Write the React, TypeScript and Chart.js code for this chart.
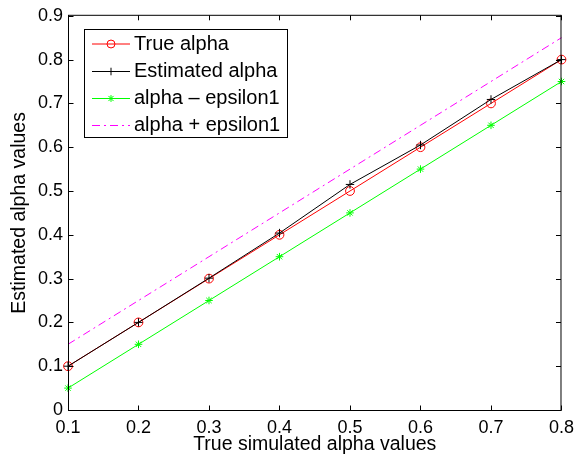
import React, { useEffect, useRef } from 'react';
import { Chart, registerables } from 'chart.js';

Chart.register(...registerables);

const xValues = [0.1, 0.2, 0.3, 0.4, 0.5, 0.6, 0.7, 0.8];
const trueAlpha = [0.1, 0.2, 0.3, 0.4, 0.5, 0.6, 0.7, 0.8];
const estimatedAlpha = [0.1, 0.2, 0.301, 0.404, 0.515, 0.605, 0.709, 0.8];
const alphaMinusEps = [0.05, 0.15, 0.25, 0.35, 0.45, 0.55, 0.65, 0.75];
const alphaPlusEps = [0.15, 0.25, 0.35, 0.45, 0.55, 0.65, 0.75, 0.85];
const seriesLabels = ['True alpha', 'Estimated alpha', 'alpha \u2013 epsilon1', 'alpha + epsilon1'];
const xTitle = 'True simulated alpha values';
const yTitle = 'Estimated alpha values';

const FONT = '"Liberation Sans", Arial, Helvetica, sans-serif';

type Style = { color: string; marker: 'circle' | 'plus' | 'star' | 'none'; dash: number[]; radius: number };
const styles: Style[] = [
  { color: '#ff0000', marker: 'circle', dash: [], radius: 4.4 },
  { color: '#000000', marker: 'plus', dash: [], radius: 4.2 },
  { color: '#00ff00', marker: 'star', dash: [], radius: 3.8 },
  { color: '#ff00ff', marker: 'none', dash: [8, 4, 2, 4], radius: 0 },
];

function drawMarker(ctx: CanvasRenderingContext2D, kind: string, x: number, y: number, r: number, color: string) {
  ctx.save();
  ctx.setLineDash([]);
  ctx.strokeStyle = color;
  ctx.lineWidth = 1;
  ctx.beginPath();
  if (kind === 'circle') {
    ctx.arc(x, y, r, 0, Math.PI * 2);
  } else if (kind === 'plus') {
    ctx.moveTo(x - r, y); ctx.lineTo(x + r, y);
    ctx.moveTo(x, y - r); ctx.lineTo(x, y + r);
  } else if (kind === 'star') {
    ctx.moveTo(x - r, y); ctx.lineTo(x + r, y);
    ctx.moveTo(x, y - r); ctx.lineTo(x, y + r);
    const d = r * 0.75;
    ctx.moveTo(x - d, y - d); ctx.lineTo(x + d, y + d);
    ctx.moveTo(x - d, y + d); ctx.lineTo(x + d, y - d);
  }
  ctx.stroke();
  ctx.restore();
}

const framePlugin = {
  id: 'matlabFrame',
  afterDatasetsDraw(chart: any) {
    const { ctx, chartArea, scales } = chart;
    const { left, right, top, bottom } = chartArea;
    const L = left + 0.5, R = right - 0.5, T = top - 0.5, B = bottom + 0.5;
    ctx.save();
    ctx.strokeStyle = '#000';
    ctx.lineWidth = 1;
    ctx.setLineDash([]);
    ctx.strokeRect(L, T, R - L, B - T);
    const tl = 5;
    ctx.beginPath();
    scales.x.ticks.forEach((t: any) => {
      const px = Math.round(scales.x.getPixelForValue(t.value)) + 0.5;
      ctx.moveTo(px, B); ctx.lineTo(px, B - tl);
      ctx.moveTo(px, T); ctx.lineTo(px, T + tl);
    });
    scales.y.ticks.forEach((t: any) => {
      const py = Math.round(scales.y.getPixelForValue(t.value)) + 0.5;
      ctx.moveTo(L, py); ctx.lineTo(L + tl, py);
      ctx.moveTo(R, py); ctx.lineTo(R - tl, py);
    });
    ctx.stroke();
    ctx.restore();
  },
  afterDraw(chart: any) {
    const { ctx } = chart;
    const bx = 84.5, by = 29.5, bw = 203, bh = 108;
    ctx.save();
    ctx.fillStyle = '#fff';
    ctx.fillRect(bx, by, bw, bh);
    ctx.strokeStyle = '#000';
    ctx.lineWidth = 1;
    ctx.strokeRect(bx, by, bw, bh);
    const rows = [44, 71.5, 98.5, 125.5];
    seriesLabels.forEach((label, i) => {
      const s = styles[i];
      const y = rows[i];
      ctx.save();
      ctx.strokeStyle = s.color;
      ctx.lineWidth = 1;
      ctx.setLineDash(s.dash);
      ctx.beginPath();
      ctx.moveTo(92, y);
      ctx.lineTo(130, y);
      ctx.stroke();
      ctx.restore();
      if (s.marker !== 'none') drawMarker(ctx, s.marker, 111, y, s.radius * 0.9, s.color);
      ctx.fillStyle = '#000';
      ctx.font = `20px ${FONT}`;
      ctx.textAlign = 'left';
      ctx.textBaseline = 'middle';
      ctx.fillText(label, 134, y);
    });
    ctx.restore();
  },
};

export default function App() {
  const ref = useRef<HTMLCanvasElement | null>(null);
  useEffect(() => {
    if (!ref.current) return;
    const series = [trueAlpha, estimatedAlpha, alphaMinusEps, alphaPlusEps];
    const pointStyleOf = (m: string) => (m === 'circle' ? 'circle' : m === 'plus' ? 'cross' : m === 'star' ? 'star' : false);
    const chart = new Chart(ref.current, {
      type: 'line',
      data: {
        datasets: series.map((vals, i) => ({
          label: seriesLabels[i],
          data: xValues.map((x, j) => ({ x, y: vals[j] })),
          borderColor: styles[i].color,
          backgroundColor: 'transparent',
          borderWidth: 1,
          borderDash: styles[i].dash,
          pointStyle: pointStyleOf(styles[i].marker) as any,
          pointRadius: styles[i].radius,
          pointBorderColor: styles[i].color,
          pointBackgroundColor: 'transparent',
          pointBorderWidth: 1,
          tension: 0,
          fill: false,
          clip: false as any,
          order: 4 - i,
        })),
      },
      options: {
        animation: false,
        responsive: false,
        maintainAspectRatio: false,
        layout: { padding: { top: 12, right: 14, left: 0, bottom: 0 } },
        plugins: { legend: { display: false }, tooltip: { enabled: false } },
        scales: {
          x: {
            type: 'linear',
            min: 0.1,
            max: 0.8,
            grid: { display: false, drawTicks: false },
            border: { display: false },
            ticks: {
              stepSize: 0.1,
              padding: 7,
              color: '#000',
              font: { family: FONT, size: 18 },
              maxRotation: 0,
              callback: (v: any) => Number(v).toFixed(1),
            },
            title: { display: true, text: xTitle, color: '#000', font: { family: FONT, size: 19.5 }, padding: { top: 0, bottom: 4.4 } },
            afterFit: (s: any) => { s.height = 51; },
          },
          y: {
            type: 'linear',
            min: 0,
            max: 0.9,
            grid: { display: false, drawTicks: false },
            border: { display: false },
            ticks: {
              stepSize: 0.1,
              padding: 5,
              color: '#000',
              font: { family: FONT, size: 18 },
              callback: (v: any) => (Math.abs(Number(v)) < 1e-9 ? '0' : Number(v).toFixed(1)),
            },
            title: { display: true, text: yTitle, color: '#000', font: { family: FONT, size: 19.5 }, padding: { top: 7.5, bottom: 0 } },
            afterFit: (s: any) => { s.width = 68; },
          },
        },
      },
      plugins: [framePlugin],
    } as any);
    return () => chart.destroy();
  }, []);
  return (
    <div style={{ position: 'absolute', left: 0, top: 0, width: 581, height: 461, background: '#fff' }}>
      <canvas ref={ref} width={581} height={461} style={{ display: 'block' }} />
    </div>
  );
}
